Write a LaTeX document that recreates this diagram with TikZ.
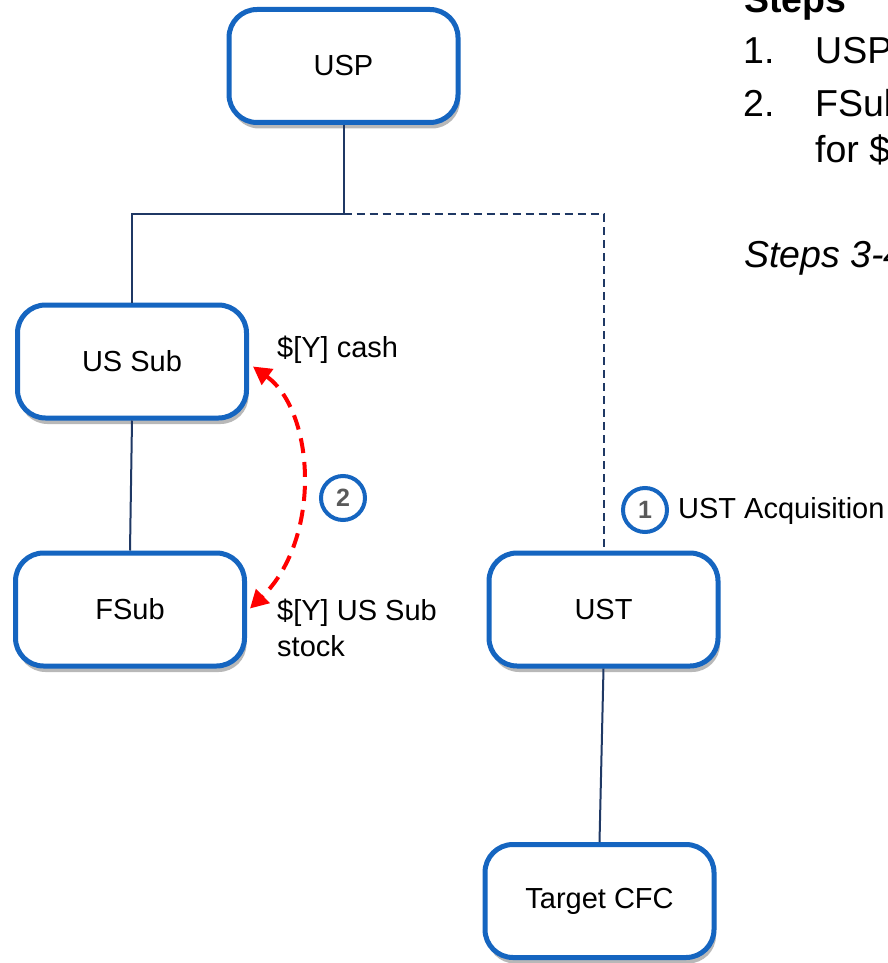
\documentclass[tikz,border=0pt]{standalone}
\usepackage{fontspec}
\setmainfont{Liberation Sans}
\usetikzlibrary{arrows.meta,shadows}
\definecolor{boxblue}{RGB}{21,101,192}
\definecolor{navy}{RGB}{31,56,100}
\definecolor{numgray}{RGB}{90,90,90}
\tikzset{
  entity/.style={draw=boxblue, line width=5pt, rounded corners=28pt, fill=white,
    minimum width=229pt, minimum height=113pt, inner sep=0pt,
    font=\fontsize{29}{33}\selectfont,
    drop shadow={shadow xshift=2pt, shadow yshift=-6pt, fill=black!55, opacity=0.5}},
  link/.style={draw=navy, line width=2pt},
  dlink/.style={draw=navy, line width=2pt, dash pattern=on 8pt off 5pt},
  flow/.style={draw=red, line width=4pt, dash pattern=on 15pt off 9pt,
    {Triangle[length=18pt,width=19pt]}-{Triangle[length=18pt,width=19pt]}},
  stepnum/.style={circle, draw=boxblue, line width=4pt, fill=white,
    minimum size=44pt, inner sep=0pt, text=numgray,
    font=\fontsize{25}{25}\selectfont\bfseries},
  lbl/.style={anchor=base west, inner sep=0pt, font=\fontsize{29}{33}\selectfont},
  steptxt/.style={anchor=base west, inner sep=0pt, font=\fontsize{37.5}{42}\selectfont}
}
\begin{document}
\begin{tikzpicture}[x=1pt,y=-1pt]
\useasboundingbox (0,0) rectangle (887,963);
\clip (0,0) rectangle (887,963);
\fill[white] (0,0) rectangle (887,963);

% boxes
\node[entity] (usp)    at (343.5,66)  {USP};
\node[entity] (ussub)  at (132,361.5) {US Sub};
\node[entity] (fsub)   at (130,609.5) {FSub};
\node[entity] (ust)    at (603.5,609.5) {UST};
\node[entity] (target) at (599.5,901) {Target CFC};

% ownership lines
\coordinate (j) at (343.5,214);
\draw[link] (usp.south) -- (j);
\draw[link] (j) -| (ussub.north);
\draw[dlink] (j) -| (ust.north);
\draw[link] (ussub.south) -- (fsub.north);
\draw[link] (ust.south) -- (target.north);

% exchange arrow
\draw[flow] ([xshift=4pt,yshift=-5pt]ussub.east) .. controls +(62,45) and +(72,-70) .. ([xshift=3pt,yshift=1pt]fsub.east);

% step markers
\node[stepnum] (n2) at (343,498) {2};
\node[stepnum] (n1) at (645,510) {1};
\node[lbl] (acq) at (678,518) {UST Acquisition};

% labels
\node[lbl] (cash) at (277,357) {\$[Y] cash};
\node[lbl] (stock1) at (277,620) {\$[Y] US Sub};
\node[lbl] (stock2) at (277,656) {stock};

% steps text (cut off at the right edge as in the reference)
\node[steptxt, font=\fontsize{37.5}{42}\selectfont\bfseries] (sh) at (744,13) {Steps};
\node[steptxt] (s1n) at (743,64) {1.};
\node[steptxt] (s1t) at (815,64) {USP};
\node[steptxt] (s2n) at (743,117) {2.};
\node[steptxt] (s2t) at (815,117) {FSub};
\node[steptxt] (s2u) at (815,162) {for \$};
\node[steptxt, font=\fontsize{37.5}{42}\selectfont\itshape] (s34) at (744,267) {Steps 3-4};
\end{tikzpicture}
\end{document}
